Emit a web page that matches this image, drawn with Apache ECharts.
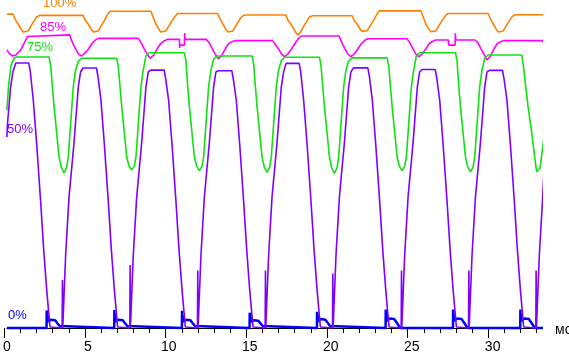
<!DOCTYPE html>
<html>
<head>
<meta charset="utf-8">
<script src="https://cdn.jsdelivr.net/npm/echarts@6/dist/echarts.min.js"></script>
<style>
html,body{margin:0;padding:0;background:#fff;}
#chart{width:569px;height:355px;}
</style>
</head>
<body>
<div id="chart"></div>
<script>
// ---- Data (time in ms, level in % of screen brightness scale) ----
const seriesNames = ['100%', '85%', '75%', '50%', '0%'];
const majorTickStep = 5;
const minorTickStep = 1;
const axisMaxMs = 33;
const unitLabel = 'мс';

const line100 = [
[0,98.1],[0.381,98.1],[0.504,96.5],[0.689,95],[0.873,93.4],[0.996,92.5],[1.119,91.9],[1.303,92.8],[1.488,94.4],[1.672,95.9],[1.857,97.3],[2.041,97.7],
[4.714,97.7],[4.837,96.2],[5.022,95],[5.206,93.4],[5.329,92.5],[5.452,92],[5.636,92.8],[5.821,94.4],[6.005,95.9],[6.19,97.8],[6.374,99],
[8.893,99],[9.016,97.4],[9.201,95],[9.385,93.4],[9.508,92.5],[9.631,92],[9.815,92.8],[10,94.4],[10.184,95.9],[10.369,97.3],[10.553,98.3],
[13.03,98.3],[13.153,96.7],[13.338,95],[13.522,93.4],[13.645,92.5],[13.768,91.9],[13.952,92.8],[14.137,94.4],[14.321,95.9],[14.506,97.3],[14.69,97.8],
[17.234,97.8],[17.357,96.2],[17.542,95],[17.726,93.4],[17.849,92.3],[17.972,91.6],[18.156,92.6],[18.341,94.4],[18.525,95.9],[18.71,97.3],[18.894,97.6],
[21.327,97.6],[21.45,96],[21.635,95],[21.819,93.4],[21.942,92.7],[22.065,92.4],[22.249,92.9],[22.434,94.4],[22.618,95.9],[22.803,97.6],[22.987,99.1],
[25.568,99.1],[25.691,97.5],[25.876,95],[26.06,93.4],[26.183,92.6],[26.306,92.3],[26.49,92.8],[26.675,94.4],[26.859,95.9],[27.044,97.3],[27.228,98.3],
[29.729,98.3],[29.852,96.7],[30.037,95],[30.221,93.4],[30.344,92.5],[30.467,91.9],[30.651,92.8],[30.836,94.4],[31.02,95.9],[31.205,97.3],[31.389,97.9],
[33.33,97.9]
];

const line85 = [
[0,86.9],[0.148,85.8],[0.35,85],[0.553,85.3],[0.861,86.9],[1.07,89],[1.272,91.1],[1.377,91.6],
[3.872,91.6],[4.057,89.1],[4.241,87.2],[4.426,85.6],[4.61,85],[4.825,85.9],[5.04,87.2],[5.256,88.9],[5.471,90],[5.655,90.5],
[8.113,90.5],[8.298,89.1],[8.482,87.2],[8.667,85.6],[8.851,84.3],[9.066,85.3],[9.281,87.2],[9.497,88.9],[9.712,89.7],[9.896,90.2],
[10.66,90.2],[10.67,87.5],[10.69,88.4],[10.96,88.4],[10.98,92.2],[11.0,90.2],
[12.317,90.2],[12.502,89.1],[12.686,87.2],[12.871,85.6],[13.055,84.1],[13.27,85.1],[13.485,87.2],[13.701,88.9],[13.916,89.5],[14.1,89.8],
[16.41,89.8],[16.595,88.5],[16.779,87.2],[16.964,85.6],[17.148,84.8],[17.363,85.7],[17.578,87.2],[17.794,88.9],[18.009,90.5],[18.193,91.25],
[20.51,91.25],[20.695,89.1],[20.879,87.2],[21.064,85.6],[21.248,84.8],[21.463,85.7],[21.678,87.2],[21.894,88.9],[22.109,89.9],[22.293,90.4],
[24.708,90.4],[24.893,89.1],[25.077,87.2],[25.262,85.6],[25.446,84.8],[25.661,85.7],[25.876,87.2],[26.092,88.9],[26.307,89.6],[26.491,90],
[27.27,90],[27.29,88.4],[27.68,88.4],[27.7,92.1],[27.72,90],
[28.911,90],[29.096,89.1],[29.28,87.2],[29.465,85.6],[29.649,83.75],[29.864,85],[30.079,87.2],[30.295,88.9],[30.51,89.5],[30.694,89.8],
[33.1,89.8],[33.22,88],[33.33,86.9]
];

const line75 = [
[0,68.1],[0.1,75.4],[0.25,82],[0.45,84.4],[0.6,84.7],
[2.607,84.7],[2.705,82],[2.81,75.4],[2.914,69.2],[3.013,64.1],[3.117,58.75],[3.222,53.5],[3.363,50.2],[3.529,48.5],[3.689,50.2],[3.794,53.5],[3.898,60.9],[3.997,68.1],[4.101,75.4],[4.243,80.6],[4.409,83.3],[4.612,84.3],
[6.786,84.3],[6.884,81.6],[6.989,75.4],[7.093,69.2],[7.192,64.1],[7.296,58.75],[7.401,53.5],[7.542,50.6],[7.708,49.4],[7.868,50.6],[7.973,53.5],[8.077,60.9],[8.176,68.1],[8.28,75.4],[8.422,80.6],[8.588,85],[8.791,86],
[10.965,86],[11.063,83.3],[11.168,75.4],[11.272,69.2],[11.371,64.1],[11.475,58.75],[11.58,53.5],[11.721,50.5],[11.887,49.2],[12.047,50.5],[12.152,53.5],[12.256,60.9],[12.355,68.1],[12.459,75.4],[12.601,80.6],[12.767,84],[12.97,85],
[15.145,85],[15.243,82.3],[15.348,75.4],[15.452,69.2],[15.551,64.1],[15.655,58.75],[15.76,53.5],[15.901,50.2],[16.067,48.6],[16.227,50.2],[16.332,53.5],[16.436,60.9],[16.535,68.1],[16.639,75.4],[16.781,80.6],[16.947,83.6],[17.15,84.6],
[19.306,84.6],[19.404,81.9],[19.509,75.4],[19.613,69.2],[19.712,64.1],[19.816,58.75],[19.921,53.5],[20.062,50],[20.228,48.3],[20.388,50],[20.493,53.5],[20.597,60.9],[20.696,68.1],[20.8,75.4],[20.942,80.6],[21.108,83.4],[21.311,84.4],
[23.487,84.4],[23.585,81.7],[23.69,75.4],[23.794,69.2],[23.893,64.1],[23.997,58.75],[24.102,53.5],[24.243,50.5],[24.409,49.2],[24.569,50.5],[24.674,53.5],[24.778,60.9],[24.877,68.1],[24.981,75.4],[25.123,80.6],[25.289,85],[25.492,86],
[27.708,86],[27.806,83.3],[27.911,75.4],[28.015,69.2],[28.114,64.1],[28.218,58.75],[28.323,53.5],[28.464,50.3],[28.63,48.8],[28.79,50.3],[28.895,53.5],[28.999,60.9],[29.098,68.1],[29.202,75.4],[29.344,80.6],[29.51,84.3],[29.713,85.3],
[31.8,85.3],[31.9,82],[32.0,77.5],[32.19,69.1],[32.42,60.9],[32.62,52.5],[32.72,48.8],[32.82,49],[32.93,50],[33.13,57.8],[33.29,68.1]
];

const line50 = [
[0,59.7],[0.04,64],[0.23,75.3],[0.37,80],[0.55,82.8],
[1.352,82.8],[1.444,80.3],[1.629,71.25],[1.844,57.2],[2.09,39.1],[2.274,24.4],[2.459,11.9],[2.662,0.3],[2.705,0],[3.412,0],[3.431,15],[3.449,0],[3.492,0],[3.628,22.8],[3.837,40.9],[4.144,57.8],[4.409,75.3],[4.55,80],[4.704,81.25],
[5.531,81.25],[5.623,78.75],[5.808,71.25],[6.023,57.2],[6.269,39.1],[6.453,24.4],[6.638,11.9],[6.841,0.3],[6.884,0],[7.591,0],[7.61,19.7],[7.628,0],[7.671,0],[7.807,22.8],[8.016,40.9],[8.323,57.8],[8.588,75.3],[8.729,80],[8.883,80.6],
[9.71,80.6],[9.802,78.1],[9.987,71.25],[10.202,57.2],[10.448,39.1],[10.632,24.4],[10.817,11.9],[11.02,0.3],[11.063,0],[11.77,0],[11.789,18],[11.807,0],[11.85,0],[11.986,22.8],[12.195,40.9],[12.502,57.8],[12.767,75.3],[12.908,80],[13.062,80.4],
[13.89,80.4],[13.982,77.9],[14.167,71.25],[14.382,57.2],[14.628,39.1],[14.812,24.4],[14.997,11.9],[15.2,0.3],[15.243,0],[15.95,0],[15.969,18],[15.987,0],[16.03,0],[16.166,22.8],[16.375,40.9],[16.682,57.8],[16.947,75.3],[17.088,80],[17.242,82.7],
[18.051,82.7],[18.143,80.2],[18.328,71.25],[18.543,57.2],[18.789,39.1],[18.973,24.4],[19.158,11.9],[19.361,0.3],[19.404,0],[20.111,0],[20.13,17],[20.148,0],[20.191,0],[20.327,22.8],[20.536,40.9],[20.843,57.8],[21.108,75.3],[21.249,80],[21.403,81.3],
[22.292,81.3],[22.384,78.8],[22.569,71.25],[22.784,57.2],[23.03,39.1],[23.214,24.4],[23.399,11.9],[23.602,0.3],[23.645,0],[24.352,0],[24.371,18],[24.389,0],[24.432,0],[24.568,22.8],[24.777,40.9],[25.084,57.8],[25.349,75.3],[25.49,80],[25.644,80.8],
[26.453,80.8],[26.545,78.3],[26.73,71.25],[26.945,57.2],[27.191,39.1],[27.375,24.4],[27.56,11.9],[27.763,0.3],[27.806,0],[28.513,0],[28.532,18],[28.55,0],[28.593,0],[28.729,22.8],[28.938,40.9],[29.245,57.8],[29.51,75.3],[29.651,80],[29.805,80.5],
[30.608,80.5],[30.7,78],[30.885,71.25],[31.1,57.2],[31.346,39.1],[31.53,24.4],[31.715,11.9],[31.918,0.3],[31.961,0],[32.668,0],[32.687,18],[32.705,0],[32.748,0],[32.884,22.8],[33.093,40.9],[33.28,59.7]
];

const line0 = [
[0,0],
[2.449,0],[2.459,5.5],[2.475,1.8],[2.53,4.2],[2.545,2.0],[2.705,2.6],[2.976,2.4],[3.117,1.5],[3.259,0.6],[3.381,0],
[6.628,0],[6.638,5.6],[6.654,1.8],[6.709,4.3],[6.724,2.0],[6.884,2.6],[7.155,2.4],[7.296,1.5],[7.438,0.6],[7.56,0],
[10.807,0],[10.817,5.4],[10.833,1.8],[10.888,4.0],[10.903,2.0],[11.063,2.6],[11.334,2.4],[11.475,1.5],[11.617,0.6],[11.739,0],
[14.987,0],[14.997,4.8],[15.013,1.8],[15.068,4.0],[15.083,2.0],[15.243,2.4],[15.514,2.3],[15.655,1.5],[15.797,0.6],[15.919,0],
[19.148,0],[19.158,5.1],[19.174,1.8],[19.229,4.2],[19.244,2.2],[19.404,2.8],[19.675,2.6],[19.816,1.6],[19.958,0.6],[20.08,0],
[23.389,0],[23.399,5.8],[23.415,2.0],[23.47,4.5],[23.485,2.2],[23.645,3.0],[23.916,2.8],[24.057,1.8],[24.199,0.7],[24.321,0],
[27.55,0],[27.56,5.8],[27.576,2.0],[27.631,4.5],[27.646,2.2],[27.806,3.0],[28.077,2.8],[28.218,1.8],[28.36,0.7],[28.482,0],
[31.705,0],[31.715,5.8],[31.731,2.0],[31.786,4.5],[31.801,2.2],[31.961,3.0],[32.232,2.8],[32.373,1.8],[32.515,0.7],[32.637,0],
[33.33,0]
];

// ---- Chart ----
const colors = {o:'#ff8000', m:'#ff00ff', g:'#11e011', p:'#8000ff', b:'#0000ff'};
const W = 569, GL = 4.3, GR = 27.8;
const pxPerMs = (W - GL - GR) / axisMaxMs;
const chart = echarts.init(document.getElementById('chart'), null, {renderer:'canvas'});

function lineSeries(name, data, color, width, z) {
  return {
    name: name, type: 'line', data: data, xAxisIndex: 0, yAxisIndex: 0,
    showSymbol: false, symbol: 'none', clip: false, silent: true, z: z,
    lineStyle: {color: color, width: width}, itemStyle: {color: color}
  };
}

const labelFont = '13px "Liberation Sans", Arial, sans-serif';
chart.setOption({
  animation: false,
  backgroundColor: '#ffffff',
  grid: [
    {left: GL, right: GR, top: 8, bottom: 27, containLabel: false},
    // companion grid with the same ms scale, extended to 35 ms, carrying the tick marks
    {left: GL, width: pxPerMs * 35, top: 8, bottom: 27, containLabel: false}
  ],
  xAxis: [
    {
      type: 'value', gridIndex: 0, min: 0, max: axisMaxMs, interval: majorTickStep, position: 'bottom',
      axisLine: {show: true, onZero: false, lineStyle: {color: '#000', width: 1}},
      axisTick: {show: false},
      axisLabel: {show: true, color: '#000', fontSize: 14, margin: 12,
                  fontFamily: '"Liberation Sans", Arial, sans-serif',
                  formatter: function (v) { return (v % majorTickStep === 0) ? String(v) : ''; }},
      splitLine: {show: false}
    },
    {
      type: 'value', gridIndex: 1, min: 0, max: 35, interval: majorTickStep, position: 'bottom',
      axisLine: {show: false, onZero: false},
      axisTick: {show: true, length: 10, lineStyle: {color: '#000', width: 1}},
      axisLabel: {show: false},
      splitLine: {show: false}
    },
    {
      type: 'value', gridIndex: 1, min: 0, max: 35, interval: minorTickStep, position: 'bottom', offset: 0,
      axisLine: {show: false, onZero: false},
      axisTick: {show: true, length: 5, lineStyle: {color: '#000', width: 1}},
      axisLabel: {show: false},
      splitLine: {show: false}
    }
  ],
  yAxis: [
    {type: 'value', gridIndex: 0, min: 0, max: 100, show: false, splitLine: {show: false}},
    {type: 'value', gridIndex: 1, min: 0, max: 100, show: false, splitLine: {show: false}}
  ],
  series: [
    lineSeries(seriesNames[0], line100, colors.o, 1.6, 2),
    lineSeries(seriesNames[1], line85, colors.m, 1.6, 3),
    lineSeries(seriesNames[2], line75, colors.g, 1.6, 4),
    lineSeries(seriesNames[4], line0, colors.b, 2.5, 5),
    lineSeries(seriesNames[3], line50, colors.p, 1.6, 6)
  ],
  graphic: [
    {type:'text', x: 43, y: 3.5, z: 100, style:{text: seriesNames[0], fill: colors.o, font: labelFont, textVerticalAlign:'middle', verticalAlign:'middle'}},
    {type:'text', x: 40, y: 27, z: 100, style:{text: seriesNames[1], fill: colors.m, font: labelFont, textVerticalAlign:'middle', verticalAlign:'middle'}},
    {type:'text', x: 27, y: 47, z: 100, style:{text: seriesNames[2], fill: colors.g, font: labelFont, textVerticalAlign:'middle', verticalAlign:'middle'}},
    {type:'text', x: 7, y: 129, z: 100, style:{text: seriesNames[3], fill: colors.p, font: labelFont, textVerticalAlign:'middle', verticalAlign:'middle'}},
    {type:'text', x: 8, y: 315.5, z: 100, style:{text: seriesNames[4], fill: colors.b, font: labelFont, textVerticalAlign:'middle', verticalAlign:'middle'}},
    {type:'text', x: 552, y: 330, z: 200, style:{text: unitLabel, fill: '#000', font: '14px "Liberation Sans", Arial, sans-serif',
      textVerticalAlign:'middle', verticalAlign:'middle', backgroundColor: '#ffffff', padding: [3, 6, 3, 3]}}
  ]
});
</script>
</body>
</html>
